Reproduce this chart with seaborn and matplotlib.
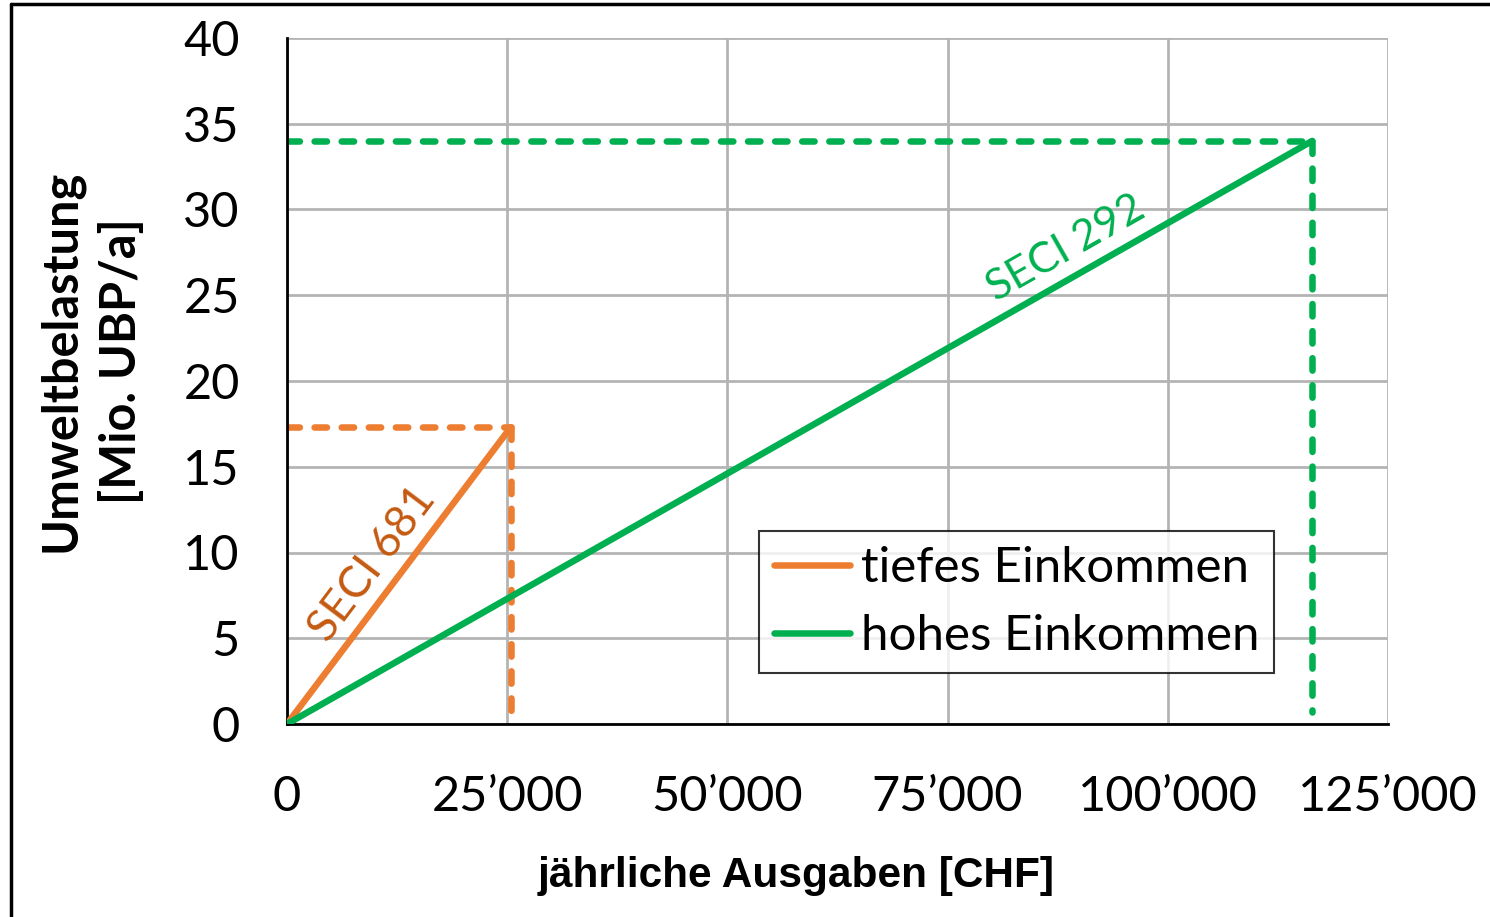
import matplotlib
matplotlib.use("Agg")
import matplotlib.pyplot as plt
import seaborn as sns
import pandas as pd
from matplotlib.lines import Line2D
from matplotlib.ticker import FuncFormatter

# Data
groups = ["tiefes Einkommen", "hohes Einkommen"]
spending = [25400, 116400]          # CHF per year
burden = [17.3, 34.0]               # Mio. UBP/a
seci_labels = ["SECI 681", "SECI 292"]
colors = ["#ED7D31", "#00B050"]
label_colors = ["#C55A11", "#00B050"]
x_ticks = [0, 25000, 50000, 75000, 100000, 125000]
y_ticks = [0, 5, 10, 15, 20, 25, 30, 35, 40]

rows = []
for g, s, b in zip(groups, spending, burden):
    rows.append({"Gruppe": g, "Ausgaben": 0, "Belastung": 0})
    rows.append({"Gruppe": g, "Ausgaben": s, "Belastung": b})
df = pd.DataFrame(rows)

sns.set_theme(style="white")
plt.rcParams["font.family"] = ["Lato", "DejaVu Sans"]
plt.rcParams["text.color"] = "black"
plt.rcParams["axes.labelcolor"] = "black"

fig = plt.figure(figsize=(14.9, 9.17), dpi=100)
ax = fig.add_axes([287/1490, 1-724/917, (1388-287)/1490, (724-38)/917])

ax.set_xlim(0, 125000)
ax.set_ylim(0, 40)
ax.set_xticks(x_ticks)
ax.set_yticks(y_ticks)
ax.grid(True, color="#B4B4B4", linewidth=2)
ax.set_axisbelow(True)

LW = 4.7
dash = (0, (1.9, 2.25))
# dashed guide lines
for i, (s, b, c) in enumerate(zip(spending, burden, colors)):
    ax.plot([0, s], [b, b], color=c, lw=LW, linestyle=dash,
            dash_capstyle="round", zorder=2)
    ax.plot([s, s], [b, 0.0 if i == 0 else 0.7], color=c, lw=LW,
            linestyle=dash, dash_capstyle="round", zorder=2)

sns.lineplot(data=df, x="Ausgaben", y="Belastung", hue="Gruppe",
             palette=colors, linewidth=LW, ax=ax, legend=False, zorder=3,
             sort=False)

# SECI labels
ax.text(9750, 9.3, seci_labels[0], color=label_colors[0], fontsize=32,
        rotation=53, ha="center", va="center", rotation_mode="anchor")
ax.text(88400, 27.7, seci_labels[1], color=label_colors[1], fontsize=31,
        rotation=29.6, ha="center", va="center", rotation_mode="anchor")

fmt = FuncFormatter(lambda v, p: "0" if v == 0 else f"{int(v):,}".replace(",", "\u2019"))
ax.xaxis.set_major_formatter(fmt)
ax.tick_params(axis="both", labelsize=35, length=0, colors="black")
ax.tick_params(axis="x", pad=37)
ax.tick_params(axis="y", pad=34)

for side in ["top", "right"]:
    ax.spines[side].set_visible(False)
for side in ["left", "bottom"]:
    ax.spines[side].set_color("black")
    ax.spines[side].set_linewidth(2)

ax.set_xlabel("jährliche Ausgaben [CHF]", fontsize=30.5, fontweight="bold",
              family=["Liberation Sans", "DejaVu Sans"], labelpad=29,
              color="black")
ax.xaxis.set_label_coords((796-287)/1101, -(876-724)/686 + 0.0, transform=ax.transAxes)
ax.xaxis.label.set_va("center")
ax.set_ylabel("Umweltbelastung\n[Mio. UBP/a]", fontsize=35, fontweight="bold",
              family=["Lato", "DejaVu Sans"],
              linespacing=1.4, color="black")
ax.yaxis.set_label_coords(-(287-91)/1101, (724-361)/686, transform=ax.transAxes)
ax.yaxis.label.set_va("center")

handles = [Line2D([0], [0], color=c, lw=LW, solid_capstyle="round") for c in colors]
leg = ax.legend(handles, groups, loc="upper left",
                bbox_to_anchor=((759-287)/1101, (724-531)/686),
                fontsize=35.5, frameon=True, fancybox=False, edgecolor="black",
                handlelength=1.55, handletextpad=0.22, borderpad=0.3,
                labelspacing=0.5, borderaxespad=0)
leg.get_frame().set_linewidth(1.5)
for t in leg.get_texts():
    t.set_color("black")

# outer frame
fig.add_artist(Line2D([11/1490, 11/1490], [0, 1-4/917], color="black", lw=2.5,
                      transform=fig.transFigure))
fig.add_artist(Line2D([11/1490, 1], [1-4/917, 1-4/917], color="black", lw=2.5,
                      transform=fig.transFigure))

fig.savefig("out.png", dpi=100)
